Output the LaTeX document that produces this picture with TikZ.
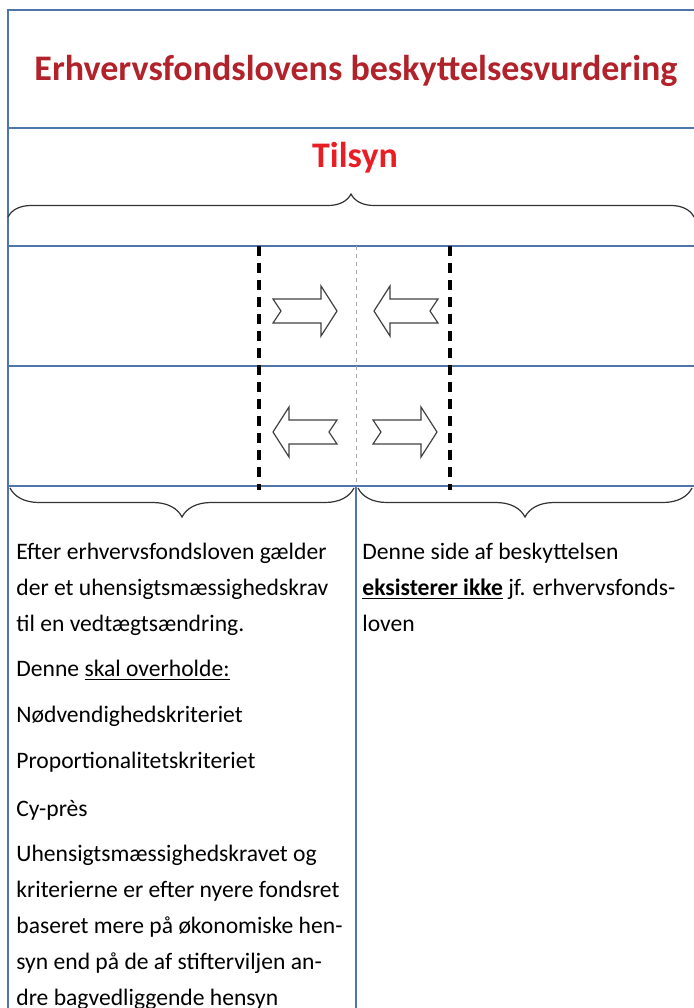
\documentclass[tikz,border=0pt]{standalone}
\usepackage{fontspec}
\setmainfont{Carlito}
\usetikzlibrary{decorations.pathreplacing}

\definecolor{gridblue}{RGB}{79,118,172}
\definecolor{titlered}{RGB}{178,34,42}
\definecolor{tilsynred}{RGB}{232,30,36}

\begin{document}
\begin{tikzpicture}[x=0.5pt,y=-0.5pt,
    gridline/.style={draw=gridblue,line width=0.8pt},
    fenceline/.style={draw=black,line width=1.6pt,dash pattern=on 5pt off 3.5pt},
    midline/.style={draw=black!35,line width=0.4pt,dash pattern=on 2pt off 2pt},
    curly/.style={draw=black!80,line width=0.6pt,decorate,decoration={brace,amplitude=#1}},
    heading/.style={font=\fontsize{18}{20}\selectfont\bfseries},
    bodytext/.style={anchor=base west,inner sep=0pt,align=left,font=\fontsize{11.8}{18}\selectfont},
    blockarrow/.pic={\draw[black!75,line width=0.6pt] (-32,-12) -- (16,-12) -- (16,-25) -- (32,0)
                     -- (16,25) -- (16,12) -- (-32,12) -- (-24,0) -- cycle;}]

  \useasboundingbox (0,0) rectangle (694,1008);

  % table frame
  \draw[gridline] (694,10) -- (8,10) -- (8,1008);
  \foreach \y in {128,246,366,486}
    \draw[gridline] (8,\y) -- (694,\y);
  \draw[gridline] (356,486) -- (356,1008);

  \draw[midline] (356,246) -- (356,486);
  \foreach \x in {259,450}
    \draw[fenceline] (\x,246) -- (\x,490);

  % braces
  \draw[curly=11.5pt] (8,217) -- (694,217);
  \draw[curly=14.5pt] (354,488) -- (10,488);
  \draw[curly=14.5pt] (692,488) -- (358,488);

  % arrows
  \pic at (305,311) {blockarrow};
  \pic[xscale=-1] at (406,311) {blockarrow};
  \pic[xscale=-1] at (305,432) {blockarrow};
  \pic at (405,432) {blockarrow};

  \node[heading,text=titlered] (title) at (356,71) {Erhvervsfondslovens beskyttelsesvurdering};
  \node[heading,text=tilsynred] (tilsyn) at (355,158) {Tilsyn};

  % base = last line of each text
  \node[bodytext] (efter) at (16,631) {Efter erhvervsfondsloven gælder\\der et uhensigtsmæssighedskrav\\til en vedtægtsændring.};
  \node[bodytext] (denne) at (16,676) {Denne \underline{skal overholde:}};
  \node[bodytext] (noedv) at (16,722) {Nødvendighedskriteriet};
  \node[bodytext] (prop) at (16,768) {Proportionalitetskriteriet};
  \node[bodytext] (cypres) at (16,816) {Cy-près};
  \node[bodytext] (uhens) at (16,1005) {Uhensigtsmæssighedskravet og\\kriterierne er efter nyere fondsret\\baseret mere på økonomiske hen-\\syn end på de af stifterviljen an-\\dre bagvedliggende hensyn};
  \node[bodytext] (side) at (362,631) {Denne side af beskyttelsen\\\underline{\textbf{eksisterer ikke}} jf. erhvervsfonds-\\loven};
\end{tikzpicture}
\end{document}
